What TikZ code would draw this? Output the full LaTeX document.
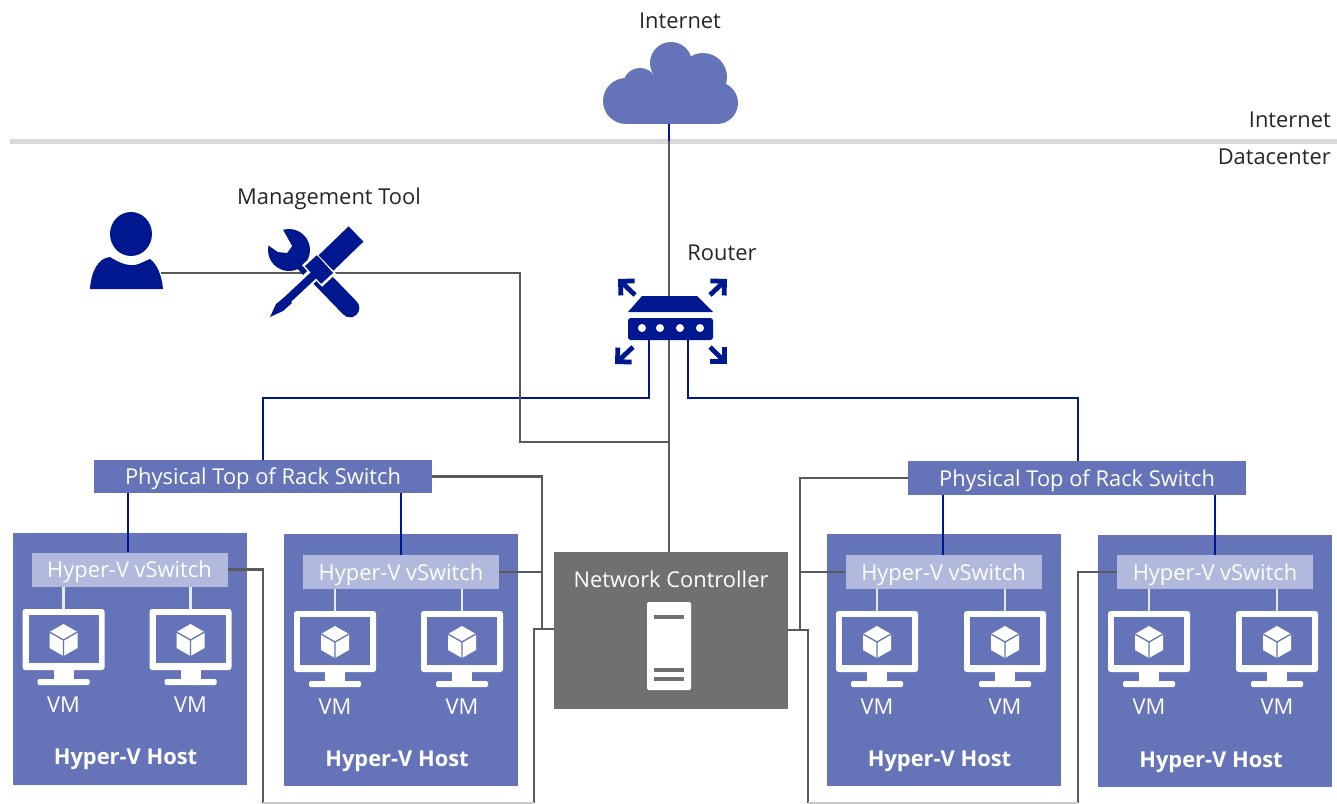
\documentclass[tikz,border=0pt]{standalone}
\usepackage{fontspec}
\setmainfont{Open Sans}
\usepackage{tikz}
\usetikzlibrary{arrows.meta, positioning}
\definecolor{hostblue}{HTML}{6574B9}
\definecolor{paleblue}{HTML}{B1B9DD}
\definecolor{navy}{HTML}{00188F}
\definecolor{ctrlgray}{HTML}{707070}
\definecolor{wiregray}{HTML}{5A5A5A}
\tikzstyle{host} = [rectangle, fill=hostblue, minimum width=175.5pt, minimum height=189pt, inner sep=0pt]
\tikzstyle{vswitch} = [rectangle, fill=paleblue, text=white, minimum width=147pt, minimum height=25.5pt, inner sep=0pt, text depth=0pt]
\tikzstyle{torswitch} = [rectangle, fill=hostblue, text=white, minimum width=253.5pt, minimum height=25pt, inner sep=0pt, text depth=0pt]
\tikzstyle{controller} = [rectangle, fill=ctrlgray, minimum width=175.5pt, minimum height=118pt, inner sep=0pt]
\tikzstyle{hostlabel} = [text=white, font=\fontsize{16.4pt}{19pt}\selectfont\bfseries, inner sep=0pt]
\tikzstyle{plain} = [text=black!85, inner sep=0pt]
\tikzstyle{wire} = [draw=wiregray, line width=2.1pt]
\tikzstyle{bluewire} = [draw=navy, line width=2.1pt]
\tikzstyle{vmlink} = [draw=white!85!hostblue, line width=2pt]
\tikzstyle{burst} = [draw=navy, line width=3.6pt, -{Straight Barb[length=7.5pt, width=15pt]}]
\tikzset{
	vmicon/.pic={
		\coordinate (-top) at (0,-31);
		\fill[white, rounded corners=2pt] (-41,-31) rectangle (41,30);
		\fill[hostblue] (-35,-25) rectangle (35,23);
		\fill[white] (-10,30) rectangle (10,40);
		\fill[white, rounded corners=1pt] (-26,39) rectangle (26,45);
		\fill[white] (0,-16) -- (14,-8) -- (14,8) -- (0,16) -- (-14,8) -- (-14,-8) -- cycle;
		\draw[hostblue, line width=1pt] (-14,-8) -- (0,0) -- (14,-8) (0,0) -- (0,16);
		\node[text=white, inner sep=0pt] (-label) at (0,65) {VM};
	}
}
\begin{document}
\begin{tikzpicture}[x=0.75pt, y=-0.75pt, font=\fontsize{16.4pt}{19pt}\selectfont]
	\useasboundingbox (0,0) rectangle (1337,803);
	
	% band between the two zones
	\fill[black!15] (10,138.5) rectangle (1337,144);
	\node[plain, anchor=east] (zoneup) at (1331,120) {Internet};
	\node[plain, anchor=east] (zonedown) at (1331,157) {Datacenter};
	
	% cloud
	\fill[hostblue] (626,101) circle [radius=23];
	\fill[hostblue] (640,85) circle [radius=17];
	\fill[hostblue] (671,63) circle [radius=21];
	\fill[hostblue] (703,77) circle [radius=24];
	\fill[hostblue] (717,103) circle [radius=21];
	\fill[hostblue] (640,75) rectangle (703,124);
	\fill[hostblue] (626,90) rectangle (717,124);
	\coordinate (cloud) at (669,124);
	\node[plain] (inet) at (680,21) {Internet};
	
	% boxes
	\node[host] (host1) at (129.5,658.5) {};
	\node[host] (host2) at (401,660) {};
	\node[host] (host3) at (943.5,660) {};
	\node[host] (host4) at (1215,661) {};
	\node[controller] (ctrl) at (671,630.5) {};
	
	\node[vswitch, below=15pt of host1.north] (vs1) {Hyper-V vSwitch};
	\node[vswitch, below=15.75pt of host2.north] (vs2) {Hyper-V vSwitch};
	\node[vswitch, below=15.75pt of host3.north] (vs3) {Hyper-V vSwitch};
	\node[vswitch, below=15pt of host4.north] (vs4) {Hyper-V vSwitch};
	
	\node[torswitch] (tor1) at (263,476.5) {Physical Top of Rack Switch};
	\node[torswitch] (tor2) at (1077,478) {Physical Top of Rack Switch};
	
	\node[hostlabel, above=11pt of host1.south, xshift=-3pt] (hl1) {Hyper-V Host};
	\node[hostlabel, above=11pt of host2.south, xshift=-3pt] (hl2) {Hyper-V Host};
	\node[hostlabel, above=11pt of host3.south, xshift=-3pt] (hl3) {Hyper-V Host};
	\node[hostlabel, above=11pt of host4.south, xshift=-3pt] (hl4) {Hyper-V Host};
	
	\pic (vm1a) at (63.5,640) {vmicon};
	\pic (vm1b) at (190.5,640) {vmicon};
	\pic (vm2a) at (335,642) {vmicon};
	\pic (vm2b) at (462,642) {vmicon};
	\pic (vm3a) at (877,642) {vmicon};
	\pic (vm3b) at (1005,642) {vmicon};
	\pic (vm4a) at (1149,642) {vmicon};
	\pic (vm4b) at (1277,642) {vmicon};
	
	\draw[vmlink] (vs1.south -| vm1a-top) -- (vm1a-top);
	\draw[vmlink] (vs1.south -| vm1b-top) -- (vm1b-top);
	\draw[vmlink] (vs2.south -| vm2a-top) -- (vm2a-top);
	\draw[vmlink] (vs2.south -| vm2b-top) -- (vm2b-top);
	\draw[vmlink] (vs3.south -| vm3a-top) -- (vm3a-top);
	\draw[vmlink] (vs3.south -| vm3b-top) -- (vm3b-top);
	\draw[vmlink] (vs4.south -| vm4a-top) -- (vm4a-top);
	\draw[vmlink] (vs4.south -| vm4b-top) -- (vm4b-top);
	
	% server in the controller
	\node[text=white, inner sep=0pt, below=14pt of ctrl.north] (ctrltext) {Network Controller};
	\fill[white, rounded corners=1pt] (647,602) rectangle (691,690);
	\draw[ctrlgray, line width=2.4pt] (654,617) -- (684,617) (654,670) -- (684,670) (654,679) -- (684,679);
	
	% router
	\coordinate (rtleft) at (649,340);
	\coordinate (rtright) at (688,340);
	\coordinate (rttop) at (669,296);
	\coordinate (rtbottom) at (669,340);
	\node[plain] (rtname) at (722,253) {Router};
	\fill[navy] (642,296) -- (697,296) -- (713,312) -- (628,312) -- cycle;
	\fill[navy, rounded corners=2pt] (628,318) rectangle (713,340);
	\fill[white] (642,328) circle [radius=4] (660,328) circle [radius=4] (680,328) circle [radius=4] (700,328) circle [radius=4];
	\draw[burst] (635,295) -- (618,279);
	\draw[burst] (710,295) -- (727,279);
	\draw[burst] (633,347) -- (615,364);
	\draw[burst] (710,347) -- (727,364);
	
	% connectors
	\coordinate (cloudband) at (669,141);
	\draw[bluewire] (cloud) -- (cloudband);
	\draw[wire] (cloudband) -- (rttop);
	\draw[wire] (rtbottom) -- (ctrl.north -| rtbottom);
	\draw[bluewire] (rtleft) |- (263,398) -- (tor1.north -| 263,0);
	\draw[bluewire] (rtright) |- (1078,398) -- (tor2.north -| 1078,0);
	\draw[bluewire] (tor1.south -| 128,0) -- (vs1.north -| 128,0);
	\draw[bluewire] (tor1.south -| 401,0) -- (vs2.north -| 401,0);
	\draw[bluewire] (tor2.south -| 943,0) -- (vs3.north -| 943,0);
	\draw[bluewire] (tor2.south -| 1215,0) -- (vs4.north -| 1215,0);
	
	\coordinate (user) at (161,273);
	\draw[wire] (user) -- (520,273) -- (520,442) -- (669,442);
	\draw[wire] (tor1.east) -| (542,629);
	\draw[wire] (vs2.east) -- (vs2.east -| 542,0);
	\draw[wire] (tor2.west) -| (800,630);
	\draw[wire] (vs3.west) -- (vs3.west -| 800,0);
	\draw[wire] (vs1.east) -| (263,803);
	\draw[wire] (534,803) |- (ctrl.west |- 0,629);
	\draw[black!20, line width=2pt] (263,803) -- (534,803);
	\draw[wire] (vs4.west) -| (1078,803);
	\draw[wire] (808,803) |- (ctrl.east |- 0,630);
	\draw[black!20, line width=2pt] (808,803) -- (1078,803);
	
	% person
	\fill[navy] (131,234) ellipse [x radius=21, y radius=22];
	\fill[navy] (90,289) .. controls (91,272) and (98,258) .. (110,257) .. controls (118,262) and (126,266) .. (135,265) .. controls (141,264) and (146,260) .. (150,259) .. controls (157,264) and (162,276) .. (163,289) -- cycle;
	
	% management tool
	\node[plain] (toolname) at (329,199) {Management Tool};
	\fill[navy] (289,250) circle [radius=21];
	\fill[white] (268,245) -- (278,252) -- (287,253) -- (292,246) -- (283,230) -- (272,226) -- (262,238) -- cycle;
	\draw[navy, line width=9pt] (296,258) -- (312,276);
	\draw[navy, line width=14pt, line cap=round] (318,275) -- (350,308);
	\draw[white, line width=10pt] (316,272) -- (285,302);
	\draw[white, line width=22pt] (326,263) -- (312,276);
	\draw[navy, line width=18pt] (325,264) -- (313,275);
	\draw[navy, line width=16pt] (356,234) -- (326,263);
	\draw[navy, line width=6pt] (316,273) -- (285,302);
	\fill[navy] (286,296) -- (292,303) -- (283,311) -- (270,317) -- (276,304) -- cycle;
\end{tikzpicture}
\end{document}
